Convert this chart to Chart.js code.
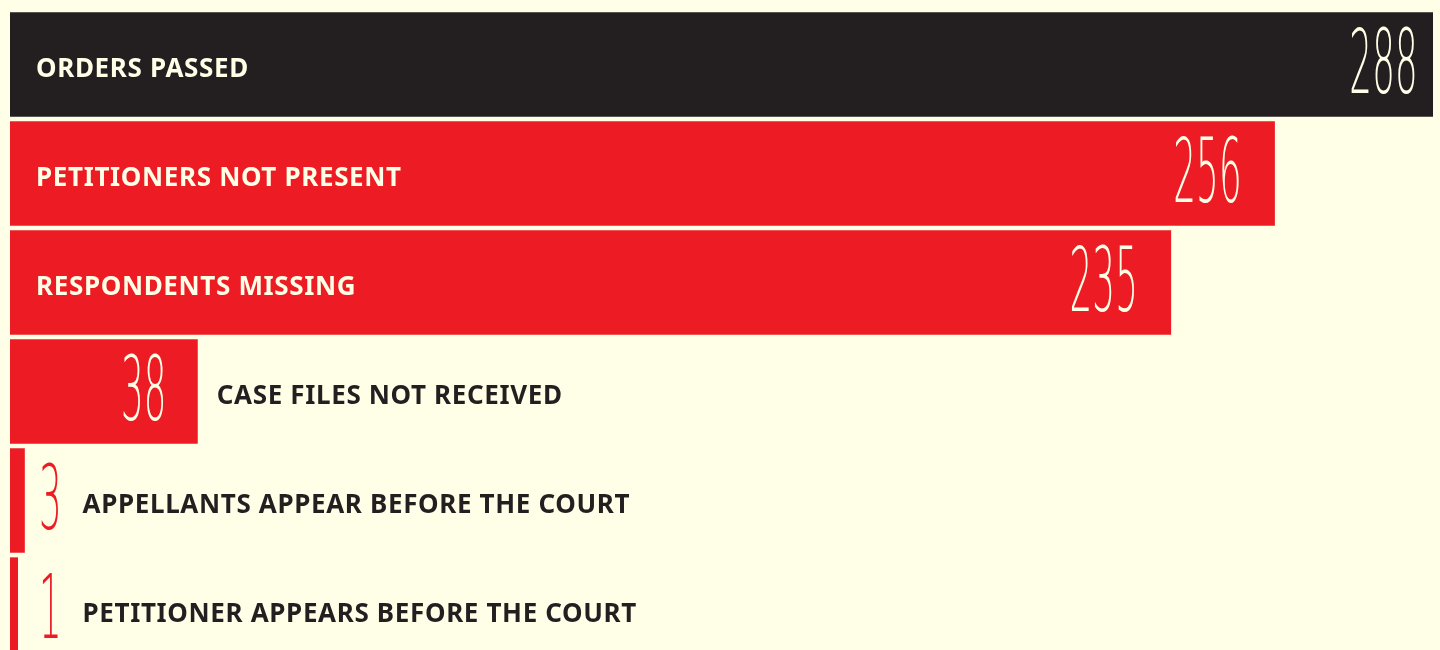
<!DOCTYPE html>
<html>
<head>
<meta charset="utf-8">
<script src="https://cdn.jsdelivr.net/npm/chart.js@4.4.1/dist/chart.umd.min.js"></script>
<style>
  html, body { margin: 0; padding: 0; background: #FFFEE6; overflow: hidden; }
  #wrap { position: relative; width: 1440px; height: 664px; }
</style>
</head>
<body>
<div id="wrap"><canvas id="c"></canvas></div>
<script>
const categories = [
  'ORDERS PASSED',
  'PETITIONERS NOT PRESENT',
  'RESPONDENTS MISSING',
  'CASE FILES NOT RECEIVED',
  'APPELLANTS APPEAR BEFORE THE COURT',
  'PETITIONER APPEARS BEFORE THE COURT'
];
const values = [288, 256, 235, 38, 3, 1];

const DARK = '#231F20';
const RED = '#ED1C24';
const CREAM = '#FFFEE6';
const maxVal = Math.max(...values);

function drawNumber(ctx, txt, xRight, yBase, color) {
  const sx = 0.4;
  ctx.save();
  ctx.font = '200 89px "DejaVu Sans"';
  ctx.textAlign = 'left';
  ctx.textBaseline = 'alphabetic';
  const w = ctx.measureText(txt).width * sx;
  ctx.translate(xRight - w, yBase);
  ctx.scale(sx, 1);
  ctx.fillStyle = color;
  ctx.fillText(txt, 0, 0);
  ctx.restore();
}

const labelPlugin = {
  id: 'labels',
  afterDatasetsDraw(chart) {
    const ctx = chart.ctx;
    const meta = chart.getDatasetMeta(0);
    meta.data.forEach((bar, i) => {
      const v = values[i];
      const left = bar.base;
      const end = bar.x;
      const yc = bar.y;
      const width = end - left;
      const numBase = yc + 28.5;
      const labBase = yc + 12;
      ctx.save();
      ctx.font = '700 26px "Noto Sans"';
      ctx.letterSpacing = '0.65px';
      ctx.textAlign = 'left';
      ctx.textBaseline = 'alphabetic';
      if (width > 600) {
        const pad = v === maxVal ? 15 : 33;
        drawNumber(ctx, String(v), end - pad, numBase, CREAM);
        ctx.fillStyle = CREAM;
        ctx.fillText(categories[i], left + 26, labBase);
      } else if (width > 100) {
        drawNumber(ctx, String(v), end - 31, numBase, CREAM);
        ctx.fillStyle = DARK;
        ctx.fillText(categories[i], end + 19, labBase);
      } else {
        drawNumber(ctx, String(v), left + 52, numBase, RED);
        ctx.fillStyle = DARK;
        ctx.fillText(categories[i], left + 72.5, labBase);
      }
      ctx.restore();
    });
  }
};

new Chart(document.getElementById('c'), {
  type: 'bar',
  data: {
    labels: categories,
    datasets: [{
      data: values,
      backgroundColor: (c) => c.dataIndex === 0 ? DARK : RED,
      borderWidth: 0,
      barPercentage: 0.957,
      categoryPercentage: 1,
      minBarLength: 8
    }]
  },
  options: {
    indexAxis: 'y',
    responsive: true,
    maintainAspectRatio: false,
    animation: false,
    layout: { padding: { left: 10, right: 7, top: 10, bottom: 0 } },
    plugins: { legend: { display: false }, tooltip: { enabled: false } },
    scales: {
      x: { display: false, min: 0, max: 288 },
      y: { display: false }
    }
  },
  plugins: [labelPlugin]
});
</script>
</body>
</html>
